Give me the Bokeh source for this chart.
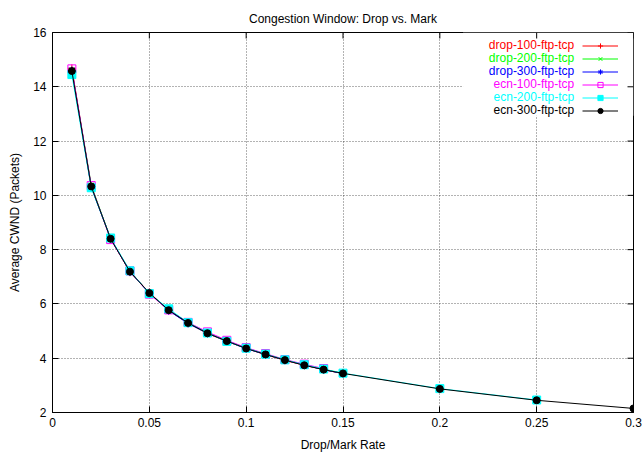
from bokeh.plotting import figure
from bokeh.models import (Range1d, FixedTicker, Legend, LegendItem,
                          Label, BoxAnnotation)
from bokeh.embed import file_html
from bokeh.resources import INLINE

# ---------------- data ----------------
title_text = "Congestion Window: Drop vs. Mark"
x_ticks = [0, 0.05, 0.1, 0.15, 0.2, 0.25, 0.3]
x_tick_labels = ["0", "0.05", "0.1", "0.15", "0.2", "0.25", "0.3"]
y_ticks = [2, 4, 6, 8, 10, 12, 14, 16]

rates_15 = [0.01, 0.02, 0.03, 0.04, 0.05, 0.06, 0.07, 0.08, 0.09, 0.10,
            0.11, 0.12, 0.13, 0.14, 0.15]
rates_14 = [0.01, 0.02, 0.03, 0.04, 0.05, 0.06, 0.07, 0.08, 0.09, 0.10,
            0.11, 0.12, 0.13, 0.14]
rates_25 = rates_15 + [0.2, 0.25]
rates_30 = rates_15 + [0.2, 0.25, 0.3]

drop_100 = [14.68, 10.32, 8.42, 7.17, 6.42, 5.76, 5.29, 4.91, 4.62, 4.36,
            4.13, 3.92, 3.74, 3.58, 3.43]
drop_200 = [14.62, 10.38, 8.39, 7.21, 6.39, 5.79, 5.31, 4.94, 4.64, 4.38,
            4.15, 3.94, 3.76, 3.59, 3.44]
drop_300 = [14.60, 10.30, 8.41, 7.18, 6.41, 5.75, 5.28, 4.92, 4.63, 4.35,
            4.14, 3.93, 3.75, 3.58, 3.43]
ecn_100 = [14.66, 10.36, 8.37, 7.22, 6.36, 5.78, 5.32, 4.97, 4.66, 4.39,
           4.17, 3.95, 3.78, 3.62]
ecn_200 = [14.45, 10.28, 8.43, 7.22, 6.38, 5.82, 5.31, 4.93, 4.62, 4.37,
           4.15, 3.94, 3.76, 3.60, 3.45, 2.88, 2.46]
ecn_300 = [14.58, 10.33, 8.40, 7.19, 6.40, 5.77, 5.30, 4.92, 4.63, 4.36,
           4.14, 3.93, 3.74, 3.58, 3.44, 2.87, 2.45, 2.15]

series_names = ["drop-100-ftp-tcp", "drop-200-ftp-tcp", "drop-300-ftp-tcp",
                "ecn-100-ftp-tcp", "ecn-200-ftp-tcp", "ecn-300-ftp-tcp"]
series_x = [rates_15, rates_15, rates_15, rates_14, rates_25, rates_30]
series_y = [drop_100, drop_200, drop_300, ecn_100, ecn_200, ecn_300]

# ---------------- style ----------------
colors = ["#ff0000", "#00ff00", "#0000ff", "#ff00ff", "#00ffff", "#000000"]
markers = ["cross", "x", "asterisk", "square", "square", "circle"]
fills = [None, None, None, None, "#00ffff", "#000000"]
sizes = [8, 7, 8, 8, 8, 7]
FONT = "Liberation Sans"
FS = "12px"

X0, X1, Y0, Y1 = 0, 0.3, 2, 16
PX_Y = (Y1 - Y0) / 380   # data units per pixel (frame is 581 x 380 px)
PX_X = (X1 - X0) / 581

p = figure(width=642, height=454, output_backend="svg", toolbar_location=None,
           x_range=Range1d(X0, X1), y_range=Range1d(Y0, Y1),
           min_border_left=52, min_border_right=9, min_border_top=32,
           min_border_bottom=42)

p.title.text = title_text
p.title.align = "center"
p.title.vertical_align = "top"
p.title.text_font = FONT
p.title.text_font_size = FS
p.title.text_font_style = "normal"
p.title.text_color = "black"

p.outline_line_color = "black"
p.outline_line_width = 1
p.background_fill_color = "white"
p.border_fill_color = "white"

xt = FixedTicker(ticks=x_ticks)
yt = FixedTicker(ticks=y_ticks)
p.xaxis.ticker = xt
p.yaxis.ticker = yt
p.xaxis.major_label_overrides = {t: l for t, l in zip(x_ticks, x_tick_labels)}
p.xaxis.axis_label = "Drop/Mark Rate"
p.yaxis.axis_label = "Average CWND (Packets)"
for ax in p.xaxis + p.yaxis:
    ax.axis_line_color = "black"
    ax.major_tick_line_color = "black"
    ax.major_tick_in = 6
    ax.major_tick_out = 0
    ax.minor_tick_line_color = None
    ax.major_label_text_font = FONT
    ax.major_label_text_font_size = FS
    ax.major_label_text_color = "black"
    ax.axis_label_text_font = FONT
    ax.axis_label_text_font_size = FS
    ax.axis_label_text_font_style = "normal"
    ax.axis_label_text_color = "black"
p.xaxis.major_label_standoff = 5
p.yaxis.major_label_standoff = 6
p.xaxis.axis_label_standoff = 8
p.yaxis.axis_label_standoff = 8

for g in (p.xgrid[0], p.ygrid[0]):
    g.grid_line_color = "black"
    g.grid_line_alpha = 0.6
    g.grid_line_dash = "1 2"
    g.grid_line_width = 1
p.xgrid.ticker = xt
p.ygrid.ticker = yt

# mirrored inward ticks on the top and right borders (6 px long)
p.segment(x0=x_ticks, y0=[Y1] * len(x_ticks), x1=x_ticks,
          y1=[Y1 - 6 * PX_Y] * len(x_ticks), line_color="black", line_width=1)
p.segment(x0=[X1] * len(y_ticks), y0=y_ticks,
          x1=[X1 - 6 * PX_X] * len(y_ticks), y1=y_ticks,
          line_color="black", line_width=1)

# white key area (hides grid under the key)
p.add_layout(BoxAnnotation(left=0.212, right=0.3, bottom=12.93, top=16,
                           fill_color="white", fill_alpha=1, line_color=None,
                           level="underlay"))

items = []
for name, xs, ys, c, m, f, s in zip(series_names, series_x, series_y, colors,
                                     markers, fills, sizes):
    lr = p.line(xs, ys, line_color=c, line_width=1)
    sr = p.scatter(xs, ys, marker=m, size=s, line_color=c, line_width=1,
                   fill_color=f)
    items.append(LegendItem(label=" ", renderers=[lr, sr]))

legend = Legend(items=items, location=(530, 295), orientation="vertical",
                glyph_width=36, glyph_height=13, label_width=0, label_height=13,
                label_standoff=0, spacing=0, padding=0, margin=0,
                border_line_color=None, background_fill_alpha=0,
                label_text_font_size="12px")
p.add_layout(legend, "center")

row_y = [15.522, 15.044, 14.565, 14.086, 13.607, 13.128]
for name, c, yy in zip(series_names, colors, row_y):
    p.add_layout(Label(x=0.2694, y=yy, text=name, text_align="right",
                       text_baseline="middle", text_font=FONT,
                       text_font_size=FS, text_color=c))

open("out.html", "w").write(file_html(p, INLINE))
